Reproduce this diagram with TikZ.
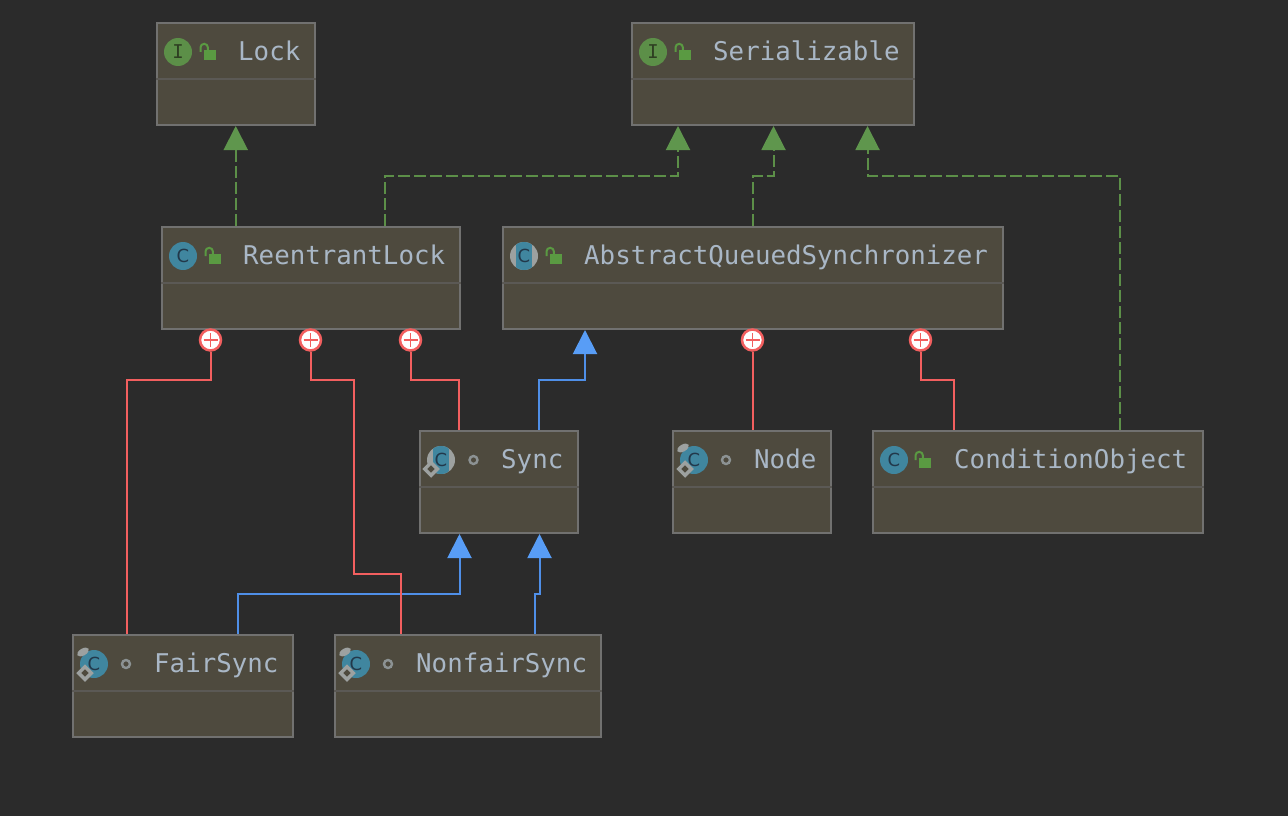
\documentclass[tikz,border=0pt]{standalone}
\usepackage{fontspec}
\setmonofont{DejaVu Sans Mono}
\setsansfont{DejaVu Sans}
\usepackage{tikz}
\usetikzlibrary{arrows.meta,shapes.geometric}

\definecolor{bgdark}{HTML}{2B2B2B}
\definecolor{boxfill}{HTML}{4E4A3E}
\definecolor{boxline}{HTML}{717170}
\definecolor{boxrule}{HTML}{5B5955}
\definecolor{labeltext}{HTML}{A9B7C6}
\definecolor{implgreen}{HTML}{5C8F48}
\definecolor{tipgreen}{HTML}{5F964D}
\definecolor{lockgreen}{HTML}{5A9A42}
\definecolor{extblue}{HTML}{4F8FE8}
\definecolor{tipblue}{HTML}{589DF6}
\definecolor{nestred}{HTML}{F25F5F}
\definecolor{badgeteal}{HTML}{40869F}
\definecolor{badgegrey}{HTML}{9DA1A0}
\definecolor{markgrey}{HTML}{8C9293}
\definecolor{badgeink}{HTML}{22384A}
\definecolor{ifaceink}{HTML}{2E3F22}

\begin{document}
\begin{tikzpicture}[x=1pt,y=-1pt]
\tikzstyle{classbox} = [draw=boxline,fill=boxfill,line width=2pt,minimum height=102pt,inner sep=0pt]
\tikzstyle{boxrule} = [draw=boxrule,line width=2pt]
\tikzstyle{classname} = [anchor=base west,inner sep=0pt,text=labeltext,font=\ttfamily\fontsize{25.8}{26}\selectfont]
\tikzstyle{ifacebadge} = [shape=circle,fill=implgreen,minimum size=28pt,inner sep=0pt,text=ifaceink,font=\ttfamily\fontsize{19}{19}\selectfont]
\tikzstyle{classbadge} = [shape=circle,fill=badgeteal,minimum size=28pt,inner sep=0pt,text=badgeink,font=\sffamily\fontsize{18}{18}\selectfont]
\tikzstyle{abstractbadge} = [classbadge,fill=badgegrey,path picture={\fill[badgeteal] ([xshift=-8pt]path picture bounding box.north) rectangle ([xshift=8pt]path picture bounding box.south);}]
\tikzstyle{staticpin} = [shape=ellipse,fill=badgegrey,minimum width=13pt,minimum height=7pt,inner sep=0pt,rotate=30]
\tikzstyle{finalmark} = [shape=diamond,draw=badgegrey,fill=boxfill,line width=3.5pt,minimum size=14pt,inner sep=0pt]
\tikzstyle{pkgmark} = [shape=circle,draw=markgrey,line width=2.4pt,minimum size=8pt,inner sep=0pt]
\tikzstyle{implements} = [draw=implgreen,line width=2pt,dash pattern=on 12pt off 4pt,-{Triangle[width=24pt,length=24pt,color=tipgreen]}]
\tikzstyle{extends} = [draw=extblue,line width=2pt,-{Triangle[width=24pt,length=24pt,color=tipblue]}]
\tikzstyle{nested} = [draw=nestred,line width=2pt]
\tikzstyle{plusmark} = [shape=circle,draw=nestred,fill=white,line width=2.5pt,minimum size=21pt,inner sep=0pt,path picture={\draw[nestred,line width=1.6pt] ([yshift=7pt]path picture bounding box.center) -- ([yshift=-7pt]path picture bounding box.center) ([xshift=-7pt]path picture bounding box.center) -- ([xshift=7pt]path picture bounding box.center);}]
\tikzset{openlock/.pic={
  \fill[lockgreen] (-6,-5) rectangle (6,5);
  \draw[lockgreen,line width=2pt] (-9.5,-3) -- (-9.5,-7.5) arc[start angle=180,end angle=360,radius=3.7] -- (-2,-5);
}}

\useasboundingbox[fill=bgdark] (0,0) rectangle (1288,816);

% class boxes
\node[classbox,minimum width=158.5pt] (lock) at (235.75,74) {};
\node[classbox,minimum width=282pt] (serial) at (773,74) {};
\node[classbox,minimum width=298pt] (reentrant) at (311,278) {};
\node[classbox,minimum width=500pt] (aqs) at (753,278) {};
\node[classbox,minimum width=158pt] (sync) at (499,482) {};
\node[classbox,minimum width=158pt] (nodecls) at (752,482) {};
\node[classbox,minimum width=330.5pt] (condobj) at (1037.75,482) {};
\node[classbox,minimum width=220.5pt] (fair) at (182.75,686) {};
\node[classbox,minimum width=266.5pt] (nonfair) at (467.75,686) {};

\foreach \boxname in {lock,serial,reentrant,aqs,sync,nodecls,condobj,fair,nonfair}
  \draw[boxrule] ([yshift=-5pt]\boxname.west) -- ([yshift=-5pt]\boxname.east);

% names
\node[classname] (locktext) at (238,60) {Lock};
\node[classname] (serialtext) at (713,60) {Serializable};
\node[classname] (reentranttext) at (243,264) {ReentrantLock};
\node[classname] (aqstext) at (584,264) {AbstractQueuedSynchronizer};
\node[classname] (synctext) at (501,468) {Sync};
\node[classname] (nodetext) at (754,468) {Node};
\node[classname] (condtext) at (954,468) {ConditionObject};
\node[classname] (fairtext) at (154,672) {FairSync};
\node[classname] (nonfairtext) at (416,672) {NonfairSync};

% badges
\node[ifacebadge] (lockbadge) at (178,52) {I};
\node[ifacebadge] (serialbadge) at (653,52) {I};
\node[classbadge] (reentrantbadge) at (183,256) {C};
\node[abstractbadge] (aqsbadge) at (524,256) {C};
\node[abstractbadge] (syncbadge) at (441,460) {C};
\node[classbadge] (nodebadge) at (694,460) {C};
\node[classbadge] (condbadge) at (894,460) {C};
\node[classbadge] (fairbadge) at (94,664) {C};
\node[classbadge] (nonfairbadge) at (356,664) {C};

\node[staticpin] (nodepin) at (683,448) {};
\node[staticpin] (fairpin) at (83,652) {};
\node[staticpin] (nonfairpin) at (345,652) {};
\node[finalmark] (syncfinal) at (431,469) {};
\node[finalmark] (nodefinal) at (685,469) {};
\node[finalmark] (fairfinal) at (85,673) {};
\node[finalmark] (nonfairfinal) at (347,673) {};

\node[pkgmark] (syncmark) at (473.5,460) {};
\node[pkgmark] (nodemark) at (726,460) {};
\node[pkgmark] (fairmark) at (126,664) {};
\node[pkgmark] (nonfairmark) at (388,664) {};

\pic at (210,55) {openlock};
\pic at (685,55) {openlock};
\pic at (215,259) {openlock};
\pic at (556,259) {openlock};
\pic at (925,463) {openlock};

% plus marks
\node[plusmark] (plusa) at (210.5,340) {};
\node[plusmark] (plusb) at (310.5,340) {};
\node[plusmark] (plusc) at (410.5,340) {};
\node[plusmark] (plusd) at (752.5,340) {};
\node[plusmark] (pluse) at (920.5,340) {};

% connectors
\draw[implements] (reentrant.north -| lock.south) -- (lock.south);
\draw[implements] ([xshift=223.5pt]reentrant.north west) -- ++(0,-50.5) -| ([xshift=47pt]serial.south west);
\draw[implements] (aqs.north) -- ++(0,-50.5) -| ([xshift=.5pt]serial.south);
\draw[implements] ([xshift=248pt]condobj.north west) -- ++(0,-254.5) -| ([xshift=236.5pt]serial.south west);

\draw[extends] ([xshift=120pt]sync.north west) -- ++(0,-50.5) -| ([xshift=83pt]aqs.south west);
\draw[extends] ([xshift=166pt]fair.north west) -- ++(0,-40.5) -| ([xshift=40.5pt]sync.south west);
\draw[extends] ([xshift=201pt]nonfair.north west) -- ++(0,-40.5) -| ([xshift=120.5pt]sync.south west);

\draw[nested] ([xshift=55pt]fair.north west) -- ++(0,-254.5) -| (plusa);
\draw[nested] ([xshift=67.5pt]nonfair.north west) -- ++(0,-60.5) -- ++(-47,0) -- ++(0,-194) -| (plusb);
\draw[nested] ([xshift=40pt]sync.north west) -- ++(0,-50.5) -| (plusc);
\draw[nested] ([xshift=.5pt]nodecls.north) -- (plusd);
\draw[nested] ([xshift=82pt]condobj.north west) -- ++(0,-50.5) -| (pluse);
\end{tikzpicture}
\end{document}
